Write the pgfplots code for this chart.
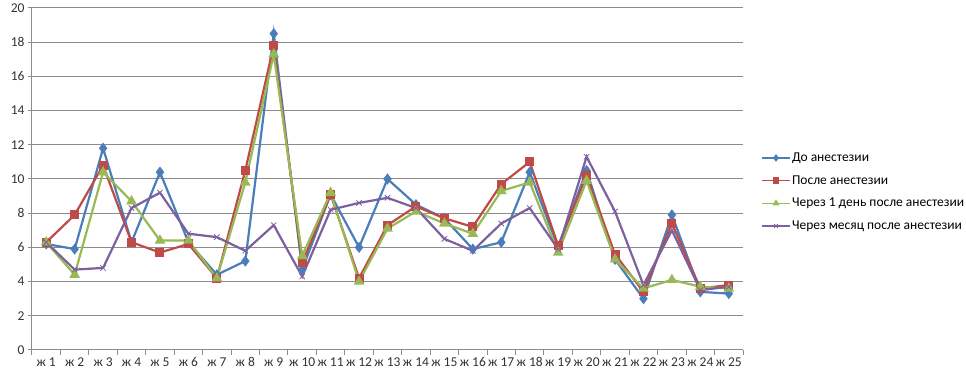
\documentclass[border=0pt]{standalone}
\usepackage{pgfplots}
\pgfplotsset{compat=1.18}
\usepackage{fontspec}
\setmainfont{Carlito}
\definecolor{sblue}{HTML}{4A7EBB}
\definecolor{sred}{HTML}{BE4B48}
\definecolor{sgreen}{HTML}{98B954}
\definecolor{spurple}{HTML}{7D60A0}
\definecolor{gridc}{HTML}{8C8C8C}
\begin{document}
\begin{tikzpicture}
\useasboundingbox (-32pt,-32pt) rectangle (934pt,350pt);
\begin{axis}[at={(0pt,0pt)}, anchor=south west, scale only axis,
  width=711pt, height=342pt,
  xmin=0.5, xmax=25.5, ymin=0, ymax=20,
  ytick={0,2,...,20}, xtick={1,...,25},
  xticklabels={ж 1,ж 2,ж 3,ж 4,ж 5,ж 6,ж 7,ж 8,ж 9,ж 10,ж 11,ж 12,ж 13,ж 14,ж 15,ж 16,ж 17,ж 18,ж 19,ж 20,ж 21,ж 22,ж 23,ж 24,ж 25},
  minor xtick={0.5,1.5,...,25.5},
  major x tick style={draw=none},
  axis x line*=bottom, axis y line*=left,
  axis line style={gridc, line width=1pt},
  tick style={gridc, line width=1pt},
  tick align=outside, major tick length=4pt, minor tick length=5pt,
  ymajorgrids, grid style={gridc, line width=1pt},
  ticklabel style={font=\fontsize{13.5}{15}\selectfont, text=black!80},
  /pgf/number format/assume math mode=true,
  every axis plot/.append style={line width=2.2pt},
  legend style={at={(1.025,0.462)}, anchor=west, draw=none, fill=none,
    font=\fontsize{13.5}{15}\selectfont, row sep=8.5pt, inner xsep=0pt,
    nodes={inner xsep=1pt}},
  legend cell align=left,
  legend image code/.code={\draw[mark repeat=2,mark phase=2, line width=1.6pt, mark size=2.5pt] plot coordinates {(0cm,0cm) (0.5cm,0cm) (1cm,0cm)};},
]
\addplot[sblue, mark=diamond*, mark size=3.8pt] coordinates {
(1,6.2)(2,5.9)(3,11.8)(4,6.3)(5,10.4)(6,6.3)(7,4.4)(8,5.2)(9,18.5)(10,4.7)(11,9.1)(12,6.0)(13,10.0)(14,8.5)(15,7.7)(16,5.9)(17,6.3)(18,10.4)(19,6.0)(20,10.5)(21,5.3)(22,3.0)(23,7.9)(24,3.4)(25,3.3)};
\addlegendentry{До анестезии}
\addplot[sred, mark=square*, mark size=3.4pt] coordinates {
(1,6.3)(2,7.9)(3,10.8)(4,6.3)(5,5.7)(6,6.2)(7,4.2)(8,10.5)(9,17.8)(10,5.1)(11,9.1)(12,4.2)(13,7.3)(14,8.4)(15,7.7)(16,7.2)(17,9.7)(18,11.0)(19,6.1)(20,10.2)(21,5.6)(22,3.4)(23,7.4)(24,3.6)(25,3.8)};
\addlegendentry{После анестезии}
\addplot[sgreen, mark=triangle*, mark size=4pt] coordinates {
(1,6.3)(2,4.4)(3,10.4)(4,8.7)(5,6.4)(6,6.4)(7,4.2)(8,9.8)(9,17.3)(10,5.5)(11,9.2)(12,4.0)(13,7.1)(14,8.1)(15,7.4)(16,6.8)(17,9.3)(18,9.8)(19,5.7)(20,9.9)(21,5.3)(22,3.6)(23,4.1)(24,3.7)(25,3.6)};
\addlegendentry{Через 1 день после анестезии}
\addplot[spurple, mark=x, mark size=3.8pt, mark options={line width=0.8pt}] coordinates {
(1,6.3)(2,4.7)(3,4.8)(4,8.3)(5,9.2)(6,6.8)(7,6.6)(8,5.8)(9,7.3)(10,4.3)(11,8.2)(12,8.6)(13,8.9)(14,8.3)(15,6.5)(16,5.8)(17,7.4)(18,8.3)(19,5.9)(20,11.3)(21,8.1)(22,3.8)(23,7.0)(24,3.5)(25,3.7)};
\addlegendentry{Через месяц после анестезии}
\end{axis}
\end{tikzpicture}
\end{document}
